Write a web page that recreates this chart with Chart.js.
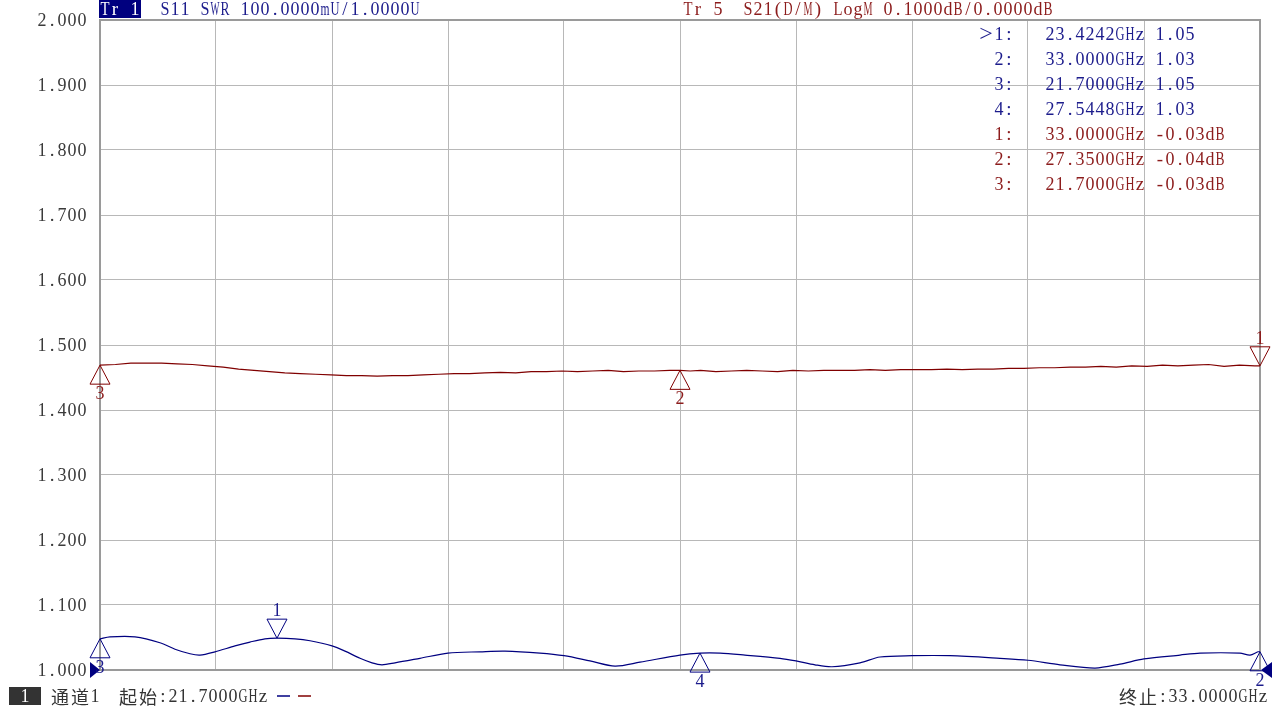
<!DOCTYPE html>
<html>
<head>
<meta charset="UTF-8">
<title>S11 SWR / S21 LogM</title>
<script src="https://cdn.jsdelivr.net/npm/chart.js"></script>
<style>
  body { margin: 0; background: #fff; }
  #wrap { width: 1280px; height: 710px; }
</style>
</head>
<body>
<div id="wrap"><canvas id="vna" width="1280" height="710"></canvas></div>
<script>
// sweep range (GHz) and grid divisions
const freqStart = 21.7, freqStop = 33.0;
const freqGrid = [21.7, 22.83, 23.96, 25.09, 26.22, 27.35, 28.48, 29.61, 30.74, 31.87, 33.0];
const swrTicks = [1.0, 1.1, 1.2, 1.3, 1.4, 1.5, 1.6, 1.7, 1.8, 1.9, 2.0];

// Tr 1 : S11 SWR
const s11Freq = [21.700, 21.797, 22.041, 22.284, 22.431, 22.577, 22.674, 22.820, 23.015, 23.161,
  23.307, 23.424, 23.600, 23.746, 23.960, 24.087, 24.233, 24.350, 24.447, 24.574,
  24.817, 25.090, 25.402, 25.645, 25.986, 26.220, 26.473, 26.717, 26.960, 27.350,
  27.545, 27.740, 27.983, 28.324, 28.480, 28.665, 28.831, 29.103, 29.298, 29.610,
  29.980, 30.467, 30.740, 31.052, 31.393, 31.636, 31.870, 32.221, 32.416, 32.805,
  32.903, 32.981, 33.000];
const s11Swr = [1.048, 1.051, 1.051, 1.042, 1.032, 1.025, 1.023, 1.028, 1.037, 1.043,
  1.048, 1.049, 1.048, 1.045, 1.037, 1.029, 1.018, 1.011, 1.008, 1.011,
  1.018, 1.026, 1.028, 1.029, 1.026, 1.022, 1.014, 1.006, 1.012, 1.023,
  1.026, 1.026, 1.023, 1.018, 1.014, 1.008, 1.005, 1.011, 1.020, 1.022,
  1.022, 1.018, 1.015, 1.008, 1.003, 1.009, 1.017, 1.023, 1.026, 1.026,
  1.023, 1.028, 1.028];

// Tr 5 : S21 LogM (dB), 0.1 dB/div, ref 0 dB at centre
const s21Freq = [21.70, 21.85, 22.00, 22.15, 22.30, 22.45, 22.60, 22.75, 22.90, 23.05,
  23.20, 23.35, 23.50, 23.65, 23.80, 23.95, 24.10, 24.25, 24.40, 24.55,
  24.70, 24.85, 25.00, 25.15, 25.30, 25.45, 25.60, 25.75, 25.90, 26.05,
  26.20, 26.35, 26.50, 26.65, 26.80, 26.95, 27.10, 27.25, 27.35, 27.45,
  27.55, 27.70, 27.85, 28.00, 28.15, 28.30, 28.45, 28.60, 28.75, 28.90,
  29.05, 29.20, 29.35, 29.50, 29.65, 29.80, 29.95, 30.10, 30.25, 30.40,
  30.55, 30.70, 30.85, 31.00, 31.15, 31.30, 31.45, 31.60, 31.75, 31.90,
  32.05, 32.20, 32.35, 32.50, 32.65, 32.80, 32.95, 33.00];
const s21Db = [-0.031, -0.030, -0.028, -0.028, -0.028, -0.029, -0.030, -0.032, -0.034, -0.037,
  -0.039, -0.041, -0.043, -0.044, -0.045, -0.046, -0.047, -0.047, -0.048, -0.047,
  -0.047, -0.046, -0.045, -0.044, -0.044, -0.043, -0.042, -0.043, -0.041, -0.041,
  -0.040, -0.041, -0.040, -0.039, -0.041, -0.040, -0.040, -0.039, -0.039, -0.040,
  -0.039, -0.041, -0.040, -0.039, -0.040, -0.041, -0.039, -0.040, -0.039, -0.039,
  -0.039, -0.038, -0.039, -0.038, -0.038, -0.038, -0.037, -0.038, -0.037, -0.037,
  -0.036, -0.036, -0.035, -0.035, -0.034, -0.034, -0.033, -0.034, -0.032, -0.033,
  -0.031, -0.032, -0.031, -0.030, -0.033, -0.031, -0.032, -0.032];

// markers
const s11MarkerNames = ['1', '2', '3', '4'];
const s11MarkerFreq = [23.4242, 33.0, 21.7, 27.5448];
const s11MarkerDown = [true, false, false, false];
const s21MarkerNames = ['1', '2', '3'];
const s21MarkerFreq = [33.0, 27.35, 21.7];
const s21MarkerDown = [true, false, false];

// marker readout table
const readNames = ['1:', '2:', '3:', '4:', '1:', '2:', '3:'];
const readFreqs = ['23.4242GHz', '33.0000GHz', '21.7000GHz', '27.5448GHz', '33.0000GHz', '27.3500GHz', '21.7000GHz'];
const readValues = ['1.05', '1.03', '1.05', '1.03', '-0.03dB', '-0.04dB', '-0.03dB'];
const readTrace = [1, 1, 1, 1, 5, 5, 5];

const blue = '#000080', red = '#800000';
const blueText = '#1c1c8c', redText = '#8c1c1c';
const gridColor = '#b8b8b8';

// fixed-pitch text like the analyser screen (half width 10px, CJK 20px)
function monoText(ctx, str, x, y, color, size) {
  ctx.fillStyle = color;
  ctx.textAlign = 'center';
  ctx.textBaseline = 'middle';
  for (const ch of str) {
    const wide = ch.charCodeAt(0) > 0x2000;
    const w = wide ? 20 : 10;
    ctx.font = wide ? '18px "Noto Sans CJK SC"' : (size || 19) + 'px "Liberation Serif"';
    if (ch !== ' ') ctx.fillText(ch, x + w / 2, y + 1, w - 1);
    x += w;
  }
  return x;
}

function interp(xs, ys, f) {
  if (f <= xs[0]) return ys[0];
  for (let i = 1; i < xs.length; i++) {
    if (f <= xs[i]) {
      const t = (f - xs[i - 1]) / (xs[i] - xs[i - 1]);
      return ys[i - 1] + t * (ys[i] - ys[i - 1]);
    }
  }
  return ys[ys.length - 1];
}

function drawMarker(ctx, x, y, down, name, color, textColor) {
  ctx.save();
  ctx.strokeStyle = color;
  ctx.lineWidth = 1;
  ctx.beginPath();
  const d = down ? -19 : 19;
  ctx.moveTo(x, y);
  ctx.lineTo(x - 10, y + d);
  ctx.lineTo(x + 10, y + d);
  ctx.closePath();
  ctx.stroke();
  monoText(ctx, name, x - 5, down ? y - 28 : y + 28, textColor);
  ctx.restore();
}

const vnaPlugin = {
  id: 'vna',
  beforeDatasetsDraw(chart) {
    const { ctx, chartArea: a } = chart;
    ctx.save();
    ctx.strokeStyle = '#9a9a9a';
    ctx.lineWidth = 2;
    ctx.strokeRect(a.left, a.top, a.right - a.left, a.bottom - a.top);
    ctx.restore();
  },
  afterDatasetsDraw(chart) {
    const { ctx, chartArea: a } = chart;
    const xs = chart.scales.x, ys = chart.scales.y, yd = chart.scales.yDb;
    ctx.save();

    // y tick labels
    swrTicks.forEach(v => monoText(ctx, v.toFixed(3), 37, ys.getPixelForValue(v), '#3a3a3a'));

    // reference arrows
    ctx.fillStyle = blue;
    ctx.beginPath();
    ctx.moveTo(a.left, a.bottom); ctx.lineTo(a.left - 10, a.bottom - 8); ctx.lineTo(a.left - 10, a.bottom + 8);
    ctx.closePath(); ctx.fill();
    ctx.beginPath();
    ctx.moveTo(a.right + 1, a.bottom); ctx.lineTo(a.right + 12, a.bottom - 8); ctx.lineTo(a.right + 12, a.bottom + 8);
    ctx.closePath(); ctx.fill();

    // markers
    s21MarkerFreq.forEach((f, i) => {
      drawMarker(ctx, xs.getPixelForValue(f), yd.getPixelForValue(interp(s21Freq, s21Db, f)),
        s21MarkerDown[i], s21MarkerNames[i], red, redText);
    });
    s11MarkerFreq.forEach((f, i) => {
      drawMarker(ctx, xs.getPixelForValue(f), ys.getPixelForValue(interp(s11Freq, s11Swr, f)),
        s11MarkerDown[i], s11MarkerNames[i], blue, blueText);
    });

    // header
    ctx.fillStyle = '#00007f';
    ctx.fillRect(99, 0, 42, 18);
    monoText(ctx, 'Tr 1', 100, 9, '#ffffff');
    monoText(ctx, 'S11 SWR 100.0000mU/1.0000U', 160, 9, blueText);
    monoText(ctx, 'Tr 5  S21(D/M) LogM 0.1000dB/0.0000dB', 683, 9, redText);

    // readout table
    readNames.forEach((n, i) => {
      const y = 34 + i * 25;
      const c = readTrace[i] === 1 ? blueText : redText;
      if (i === 0) {
        ctx.fillStyle = c;
        ctx.font = '24px "Liberation Serif"';
        ctx.textAlign = 'center';
        ctx.textBaseline = 'middle';
        ctx.fillText('>', 986, y + 1);
      }
      monoText(ctx, n, 994, y, c);
      monoText(ctx, readFreqs[i], 1045, y, c);
      monoText(ctx, readValues[i], 1155, y, c);
    });

    // status bar
    ctx.fillStyle = '#333333';
    ctx.fillRect(9, 687, 32, 18);
    monoText(ctx, '1', 20, 696, '#ffffff');
    monoText(ctx, '通道1', 50, 696, '#333333');
    monoText(ctx, '起始:21.7000GHz', 118, 696, '#333333');
    ctx.lineWidth = 1.5;
    ctx.strokeStyle = blue;
    ctx.beginPath(); ctx.moveTo(277, 696); ctx.lineTo(290, 696); ctx.stroke();
    ctx.strokeStyle = red;
    ctx.beginPath(); ctx.moveTo(298, 696); ctx.lineTo(311, 696); ctx.stroke();
    monoText(ctx, '终止:33.0000GHz', 1118, 696, '#333333');
    ctx.restore();
  }
};

const ctx = document.getElementById('vna').getContext('2d');
new Chart(ctx, {
  type: 'scatter',
  data: {
    datasets: [
      {
        label: 'S21',
        data: s21Freq.map((f, i) => ({ x: f, y: s21Db[i] })),
        yAxisID: 'yDb',
        showLine: true,
        borderColor: red,
        borderWidth: 1.2,
        pointRadius: 0,
        tension: 0
      },
      {
        label: 'S11',
        data: s11Freq.map((f, i) => ({ x: f, y: s11Swr[i] })),
        yAxisID: 'y',
        showLine: true,
        borderColor: blue,
        borderWidth: 1.2,
        pointRadius: 0,
        tension: 0.3
      }
    ]
  },
  options: {
    responsive: false,
    animation: false,
    layout: { padding: { top: 20, right: 20, left: 0, bottom: 0 } },
    plugins: { legend: { display: false }, tooltip: { enabled: false } },
    scales: {
      x: {
        type: 'linear',
        min: freqStart,
        max: freqStop,
        afterBuildTicks: s => { s.ticks = freqGrid.map(v => ({ value: v })); },
        afterFit: s => { s.height = 40; },
        ticks: { display: false },
        grid: { color: gridColor, lineWidth: 1, drawTicks: false },
        border: { display: false }
      },
      y: {
        position: 'left',
        min: 1,
        max: 2,
        afterBuildTicks: s => { s.ticks = swrTicks.map(v => ({ value: v })); },
        afterFit: s => { s.width = 100; },
        ticks: { display: false },
        grid: { color: gridColor, lineWidth: 1, drawTicks: false },
        border: { display: false }
      },
      yDb: { display: false, min: -0.5, max: 0.5 }
    }
  },
  plugins: [vnaPlugin]
});
</script>
</body>
</html>
